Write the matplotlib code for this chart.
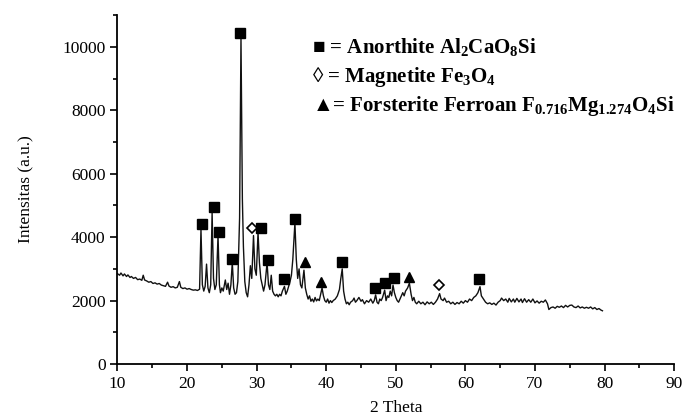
# coding: utf-8
import matplotlib.pyplot as plt
from matplotlib.ticker import MultipleLocator

# Data (2 theta, intensity)
two_theta = [
    10.0, 10.3, 10.5, 10.8, 11.0, 11.3, 11.5, 11.8, 12.0, 12.3, 12.6, 12.9, 13.2, 13.5, 13.7, 13.9,
    14.2, 14.5, 14.8, 15.1, 15.4, 15.7, 16.0, 16.3, 16.6, 16.9, 17.2, 17.4, 17.7, 18.0, 18.3, 18.6,
    18.9, 19.1, 19.4, 19.7, 20.0, 20.3, 20.6, 20.9, 21.2, 21.5, 21.8, 22.0, 22.2, 22.4, 22.6, 22.8,
    23.0, 23.2, 23.4, 23.6, 23.8, 24.0, 24.2, 24.45, 24.65, 24.8, 25.0, 25.2, 25.5, 25.7, 25.9, 26.1,
    26.3, 26.5, 26.7, 26.9, 27.1, 27.3, 27.55, 27.75, 27.95, 28.1, 28.3, 28.5, 28.7, 28.9, 29.1, 29.3,
    29.55, 29.75, 29.95, 30.2, 30.4, 30.6, 30.8, 31.0, 31.2, 31.5, 31.7, 31.9, 32.1, 32.3, 32.5, 32.7,
    32.9, 33.1, 33.3, 33.5, 33.7, 34.0, 34.2, 34.4, 34.6, 34.8, 35.0, 35.2, 35.5, 35.7, 35.9, 36.1,
    36.3, 36.5, 36.8, 37.0, 37.2, 37.4, 37.6, 37.8, 38.0, 38.2, 38.4, 38.6, 38.8, 39.0, 39.2, 39.4,
    39.6, 39.8, 40.0, 40.2, 40.4, 40.6, 40.8, 41.0, 41.3, 41.6, 41.9, 42.1, 42.3, 42.5, 42.7, 42.9,
    43.1, 43.3, 43.5, 43.8, 44.0, 44.2, 44.4, 44.7, 45.0, 45.2, 45.5, 45.8, 46.1, 46.4, 46.7, 46.9,
    47.1, 47.3, 47.5, 47.7, 47.9, 48.1, 48.4, 48.6, 48.8, 49.0, 49.2, 49.4, 49.6, 49.8, 50.0, 50.2,
    50.4, 50.7, 51.0, 51.2, 51.4, 51.7, 51.95, 52.2, 52.4, 52.6, 52.8, 53.0, 53.3, 53.6, 53.9, 54.2,
    54.5, 54.8, 55.1, 55.4, 55.7, 56.0, 56.3, 56.5, 56.8, 57.0, 57.3, 57.6, 57.9, 58.2, 58.5, 58.8,
    59.1, 59.4, 59.7, 60.0, 60.3, 60.6, 60.9, 61.2, 61.5, 61.8, 62.1, 62.3, 62.6, 62.9, 63.2, 63.5,
    63.8, 64.1, 64.4, 64.7, 65.0, 65.2, 65.5, 65.8, 66.1, 66.3, 66.6, 66.9, 67.1, 67.4, 67.7, 68.0,
    68.2, 68.5, 68.8, 69.1, 69.4, 69.7, 70.0, 70.3, 70.6, 70.9, 71.2, 71.5, 71.8, 72.0, 72.3, 72.6,
    72.9, 73.2, 73.5, 73.8, 74.1, 74.4, 74.7, 75.0, 75.3, 75.6, 75.9, 76.2, 76.5, 76.8, 77.1, 77.4,
    77.7, 78.0, 78.3, 78.6, 78.9, 79.2, 79.5, 79.7,
]
intensity = [
    2850, 2800, 2870, 2780, 2840, 2760, 2810, 2730, 2760, 2700, 2730, 2660, 2680, 2640, 2800, 2650,
    2620, 2580, 2600, 2540, 2560, 2520, 2540, 2490, 2470, 2450, 2580, 2460, 2420, 2440, 2400, 2420,
    2600, 2420, 2380, 2400, 2360, 2380, 2350, 2330, 2340, 2320, 2360, 4250, 2500, 2300, 2450, 3150,
    2400, 2250, 2500, 4780, 2700, 2350, 2500, 4050, 2500, 2250, 2400, 2300, 2650, 2350, 2550, 2200,
    2500, 3200, 2400, 2200, 2250, 2600, 4600, 10300, 5200, 3700, 2600, 2250, 2120, 2500, 3100, 2700,
    4050, 3000, 2800, 4150, 3200, 2700, 2500, 2300, 2500, 3200, 2500, 2350, 2800, 2300, 2200, 2150,
    2200, 2120, 2200, 2150, 2300, 2450, 2200, 2300, 2450, 2600, 2800, 3300, 4450, 3300, 2700, 3000,
    2500, 2400, 2960, 2400, 2200, 2050, 2150, 1980, 2050, 1960, 2100, 1990, 2050, 2000, 2200, 2400,
    2150, 2000, 1950, 2050, 1920, 2000, 1940, 2000, 2050, 2150, 2350, 2700, 3000, 2300, 2050, 1900,
    1950, 1870, 1950, 2000, 2080, 1950, 2000, 2100, 1980, 2030, 1900, 2000, 1950, 2050, 1920, 2000,
    2180, 1950, 1900, 2050, 2000, 2100, 2330, 2000, 2150, 2100, 2300, 2150, 2490, 2250, 2100, 2000,
    1950, 2100, 2250, 2150, 2300, 2400, 2550, 2200, 2000, 2100, 1950, 1900, 1980, 1900, 1950, 1870,
    1960, 1900, 1950, 1880, 1950, 2050, 2220, 2050, 2000, 2080, 1950, 1980, 1900, 1950, 1880, 1940,
    1900, 1980, 1920, 2000, 1950, 2050, 2000, 2100, 2150, 2250, 2440, 2150, 2050, 1950, 1900, 1930,
    1880, 1920, 1860, 1950, 2000, 2080, 2000, 2050, 1950, 2070, 1960, 2050, 1950, 2070, 1960, 2050,
    1940, 2060, 1950, 2030, 1950, 2050, 1930, 1990, 1920, 1980, 1950, 2020, 1900, 1720, 1780, 1800,
    1760, 1820, 1790, 1830, 1780, 1850, 1800, 1850, 1860, 1800, 1780, 1830, 1770, 1800, 1760, 1790,
    1760, 1800, 1740, 1780, 1720, 1750, 1700, 1680,
]

# Phase markers (position, marker height)
anorthite_x = [22.2, 23.9, 24.55, 26.45, 27.66, 30.67, 31.67, 34.0, 35.45, 42.3, 47.07, 48.46, 49.7, 62.0]
anorthite_y = [4400, 4960, 4150, 3310, 10420, 4280, 3280, 2680, 4570, 3230, 2390, 2550, 2720, 2670]
magnetite_x = [29.33, 56.25]
magnetite_y = [4280, 2490]
forsterite_x = [36.9, 39.28, 51.95]
forsterite_y = [3210, 2580, 2730]

# Legend lines
legend_lines = [
    "■ = Anorthite Al$_2$CaO$_8$Si",
    "◊ = Magnetite Fe$_3$O$_4$",
    "▲= Forsterite Ferroan F$_{0.716}$Mg$_{1.274}$O$_4$Si",
]
legend_y = [10000, 9050, 8140]

plt.rcParams["font.family"] = ["Liberation Serif", "DejaVu Sans"]
plt.rcParams["mathtext.fontset"] = "custom"
plt.rcParams["mathtext.rm"] = "Liberation Serif:bold"
plt.rcParams["mathtext.it"] = "Liberation Serif:bold"
plt.rcParams["mathtext.bf"] = "Liberation Serif:bold"

fig = plt.figure(figsize=(6.83, 4.18), dpi=100)
ax = fig.add_axes([0.172, 0.129, 0.815, 0.835])

ax.plot(two_theta, intensity, color="#111111", linewidth=1.0)

ax.plot(anorthite_x, anorthite_y, "s", color="black", markersize=7, linestyle="none")
ax.plot(magnetite_x, magnetite_y, "D", markerfacecolor="white", markeredgecolor="black",
        markersize=5, markeredgewidth=1.2, linestyle="none")
ax.plot(forsterite_x, forsterite_y, "^", color="black", markersize=7, linestyle="none")

for line, y in zip(legend_lines, legend_y):
    ax.text(37.9, y, line, fontsize=15, fontweight="bold", va="center", ha="left")

ax.set_xlim(10, 90)
ax.set_ylim(0, 11000)
ax.xaxis.set_major_locator(MultipleLocator(10))
ax.xaxis.set_minor_locator(MultipleLocator(5))
ax.yaxis.set_major_locator(MultipleLocator(2000))
ax.yaxis.set_minor_locator(MultipleLocator(1000))

for side in ["top", "right"]:
    ax.spines[side].set_visible(False)
for side in ["left", "bottom"]:
    ax.spines[side].set_linewidth(1.3)

ax.tick_params(which="major", direction="out", length=5, width=1.2, labelsize=12.5)
ax.tick_params(which="minor", direction="out", length=3, width=1.2)

ax.set_xlabel("2 Theta", fontsize=12.5, labelpad=6)
ax.set_ylabel("Intensitas (a.u.)", fontsize=12.5, labelpad=20)

fig.savefig("out.png", dpi=100)
